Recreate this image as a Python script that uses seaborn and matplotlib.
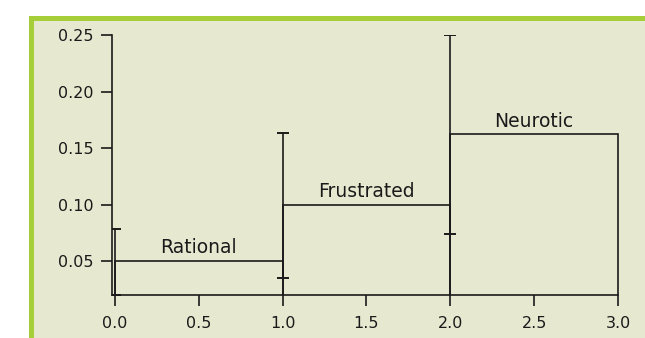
import matplotlib
matplotlib.use("Agg")
import matplotlib.pyplot as plt
from matplotlib.patches import Rectangle
import pandas as pd
import seaborn as sns

# ----------------------------
# Data
# ----------------------------
categories = ["Rational", "Frustrated", "Neurotic"]
x_start = [0, 1, 2]
level = [0.05, 0.10, 0.162]
err_low = [0.02, 0.035, 0.074]
err_high = [0.078, 0.163, 0.25]
x_ticks = [0.0, 0.5, 1.0, 1.5, 2.0, 2.5, 3.0]
y_ticks = [0.05, 0.10, 0.15, 0.20, 0.25]

PANEL = "#e6e9cf"
GREEN = "#a6ce39"
INK = "#1a1a1a"

sns.set_theme(style="ticks")
plt.rcParams["font.family"] = ["DejaVu Sans"]

df = pd.DataFrame({"cat": categories, "x": [s + 0.5 for s in x_start], "level": level})

fig = plt.figure(figsize=(6.45, 3.38), dpi=100)
fig.patch.set_facecolor("white")
# green frame + panel
fig.patches.append(Rectangle((29 / 645, 0), 1, (338 - 16) / 338,
                             transform=fig.transFigure, facecolor=GREEN,
                             edgecolor="none", zorder=-2))
fig.patches.append(Rectangle((34 / 645, 0), 1, (338 - 21) / 338,
                             transform=fig.transFigure, facecolor=PANEL,
                             edgecolor="none", zorder=-1))

ax = fig.add_axes([111.6 / 645, 43 / 338, (620 - 111.6) / 645, 260 / 338])
ax.set_facecolor("none")

# boxes
sns.histplot(data=df, x="x", weights="level", bins=[0, 1, 2, 3],
             element="bars", fill=False, color=INK, linewidth=1.2, ax=ax)
for p in ax.patches:
    p.set_edgecolor(INK)

# error bars at the left edge of each box
mid = [(lo + hi) / 2 for lo, hi in zip(err_low, err_high)]
yerr = [[m - lo for m, lo in zip(mid, err_low)],
        [hi - m for m, hi in zip(mid, err_high)]]
ax.errorbar(x_start, mid, yerr=yerr, fmt="none", ecolor=INK,
            elinewidth=1.2, capsize=4.3, capthick=1.4, clip_on=True)

for c, s, v in zip(categories, x_start, level):
    ax.annotate(c, xy=(s + 0.5, v), xytext=(0, 5.5), textcoords="offset points",
                ha="center", va="baseline", fontsize=13.5, color=INK)

ax.set_xlim(-0.02, 3.012)
ax.set_ylim(0.02, 0.25)
ax.set_xticks(x_ticks)
ax.set_xticklabels([f"{t:.1f}" for t in x_ticks])
ax.set_yticks(y_ticks)
ax.set_yticklabels([f"{t:.2f}" for t in y_ticks])
ax.set_xlabel("")
ax.set_ylabel("")
sns.despine(ax=ax)
ax.spines["bottom"].set_bounds(-0.02, 3.0)
for side in ["left", "bottom"]:
    ax.spines[side].set_color(INK)
    ax.spines[side].set_linewidth(1.2)
ax.tick_params(axis="both", direction="out", length=8, width=1.2,
               color=INK, labelsize=11.5, labelcolor=INK)
ax.tick_params(axis="y", pad=5)
ax.tick_params(axis="x", pad=7)

fig.savefig("out.png", dpi=100)
